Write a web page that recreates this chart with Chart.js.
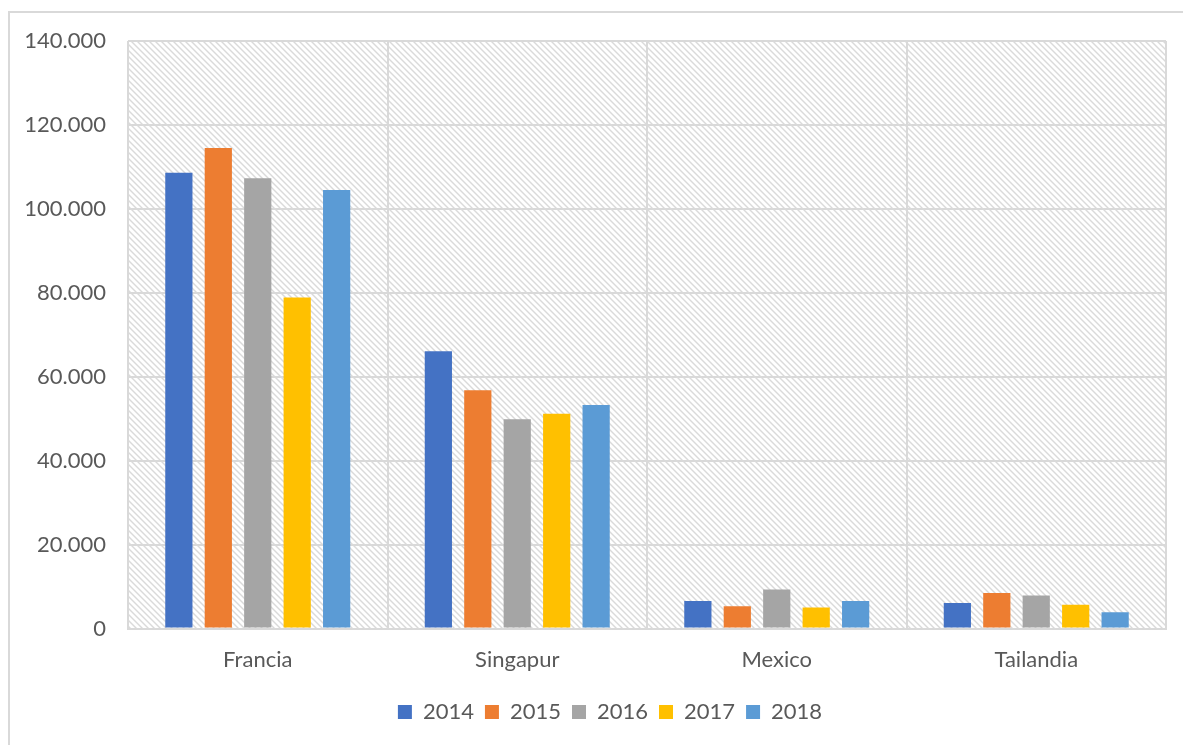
<!DOCTYPE html>
<html>
<head>
<meta charset="utf-8">
<script src="https://cdn.jsdelivr.net/npm/chart.js@4/dist/chart.umd.min.js"></script>
<style>
  html, body { margin: 0; padding: 0; background: #ffffff; overflow: hidden; }
  #frame { position: absolute; left: 8px; top: 11px; width: 1300px; height: 900px; border: 2px solid #d9d9d9; box-sizing: border-box; }
  #wrap { position: absolute; left: 0; top: 0; width: 1183px; height: 745px; }
</style>
</head>
<body>
<div id="frame"></div>
<div id="wrap"><canvas id="c" width="1183" height="745"></canvas></div>
<script>
const categories = ["Francia", "Singapur", "Mexico", "Tailandia"];
const seriesLabels = ["2014", "2015", "2016", "2017", "2018"];
const values2014 = [108600, 66100, 6600, 6100];
const values2015 = [114500, 56800, 5300, 8500];
const values2016 = [107300, 49900, 9300, 7900];
const values2017 = [78900, 51200, 5000, 5700];
const values2018 = [104500, 53300, 6600, 3900];
const seriesColors = ["#4472C4", "#ED7D31", "#A5A5A5", "#FFC000", "#5B9BD5"];
const yTicks = [0, 20000, 40000, 60000, 80000, 100000, 120000, 140000];

const allValues = [values2014, values2015, values2016, values2017, values2018];

function fmt(v) {
  return String(v).replace(/\B(?=(\d{3})+(?!\d))/g, ".");
}

// hatch pattern
const tile = document.createElement("canvas");
tile.width = 6; tile.height = 6;
const tctx = tile.getContext("2d");
tctx.fillStyle = "#ffffff";
tctx.fillRect(0, 0, 6, 6);
tctx.strokeStyle = "#dadada";
tctx.lineWidth = 1.4;
[-6, 0, 6].forEach(o => {
  tctx.beginPath();
  tctx.moveTo(o - 1, -1);
  tctx.lineTo(o + 7, 7);
  tctx.stroke();
});

const hatchPlugin = {
  id: "hatch",
  afterLayout(chart) {
    if (chart.legend) {
      chart.legend.left += 27;
      chart.legend.right += 27;
      chart.legend.top -= 1;
      chart.legend.bottom -= 1;
    }
  },
  beforeDraw(chart) {
    const a = chart.chartArea;
    const ctx = chart.ctx;
    ctx.save();
    ctx.fillStyle = ctx.createPattern(tile, "repeat");
    ctx.fillRect(a.left, a.top, a.right - a.left, a.bottom - a.top);
    ctx.restore();
  }
};

const FONT = "Lato, 'Liberation Sans', sans-serif";

new Chart(document.getElementById("c"), {
  type: "bar",
  data: {
    labels: categories,
    datasets: seriesLabels.map((s, i) => ({
      label: s,
      data: allValues[i],
      backgroundColor: seriesColors[i],
      borderWidth: 0,
      categoryPercentage: 0.76,
      barPercentage: 0.69
    }))
  },
  options: {
    responsive: false,
    animation: false,
    layout: { padding: { left: 0, right: 17, top: 41, bottom: 11 } },
    plugins: {
      legend: {
        position: "bottom",
        labels: {
          boxWidth: 14,
          boxHeight: 14,
          padding: 11,
          color: "#595959",
          font: { family: FONT, size: 22 }
        }
      },
      tooltip: { enabled: false }
    },
    scales: {
      x: {
        grid: { color: "#d9d9d9", lineWidth: 2, drawTicks: false, offset: true },
        border: { color: "#d9d9d9", width: 2 },
        ticks: { color: "#595959", font: { family: FONT, size: 22 }, padding: 18 }
      },
      y: {
        min: 0,
        max: 140000,
        afterFit(scale) { scale.width = 128; },
        afterBuildTicks(scale) { scale.ticks = yTicks.map(v => ({ value: v })); },
        grid: { color: "#d9d9d9", lineWidth: 2, drawTicks: false },
        border: { display: false },
        ticks: {
          color: "#595959",
          font: { family: FONT, size: 22 },
          padding: 22,
          callback: v => fmt(v)
        }
      }
    }
  },
  plugins: [hatchPlugin]
});
</script>
</body>
</html>
